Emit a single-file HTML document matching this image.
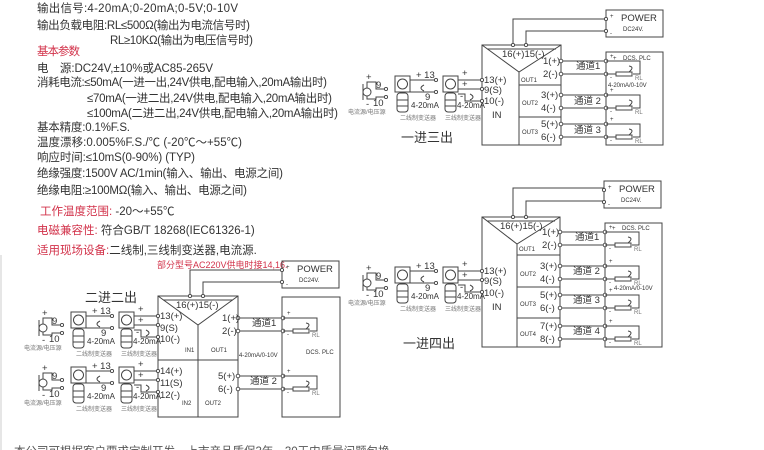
<!DOCTYPE html>
<html><head><meta charset="utf-8"><style>
html,body{margin:0;padding:0;background:#fff;width:764px;height:450px;overflow:hidden}
svg{display:block}
text{font-family:"Liberation Sans","Noto Sans CJK SC",sans-serif;fill:#333}
.t{font-size:11.5px}
.r{fill:#d2324a}
.s{font-size:9.5px}
.xs{font-size:6px;fill:#777}
.l{stroke:#444;stroke-width:1;fill:none}
.c{stroke:#444;stroke-width:0.9;fill:#fff}
</style></head><body>
<svg width="764" height="450" viewBox="0 0 764 450">
<defs>
<g id="inp">
 <circle class="l" cx="367" cy="92" r="4"/>
 <line class="l" x1="363" y1="84" x2="363" y2="100"/>
 <path class="l" d="M367 88 V82 H376 V89 H385 M367 96 V99 H376 V97 H385"/>
 <text class="s" x="366" y="80">+</text><text class="s" x="366" y="107">-</text>
 <text class="s" x="376" y="88">9</text><text class="s" x="373" y="106">10</text>
 <circle class="c" cx="386" cy="89" r="1.6"/><circle class="c" cx="386" cy="97" r="1.6"/>
 <text class="xs" x="348" y="114">电流源/电压源</text>
 <rect class="l" x="395" y="76" width="15" height="16"/><circle class="l" cx="402.5" cy="84" r="5"/>
 <rect class="l" x="397" y="93" width="11" height="19" rx="3"/>
 <line class="l" x1="397" y1="100" x2="408" y2="100"/><line class="l" x1="397" y1="106" x2="408" y2="106"/>
 <path class="l" d="M410 80 H435 M410 92 H435"/>
 <circle class="c" cx="436" cy="80" r="1.6"/><circle class="c" cx="436" cy="92" r="1.6"/>
 <text class="s" x="416" y="78">+ 13</text><text class="s" x="425" y="100">9</text>
 <path class="l" d="M424 85 q-6 3 0 6"/>
 <text class="s" x="411" y="108" style="font-size:8px">4-20mA</text>
 <text class="xs" x="400" y="120">二线制变送器</text>
 <rect class="l" x="443" y="76" width="15" height="16"/><circle class="l" cx="450.5" cy="84" r="5"/>
 <rect class="l" x="445" y="93" width="11" height="19" rx="3"/>
 <line class="l" x1="445" y1="100" x2="456" y2="100"/><line class="l" x1="445" y1="106" x2="456" y2="106"/>
 <path class="l" d="M458 80 H482 M458 89 H482 M458 94 H465 V101 H482"/>
 <text class="s" x="462" y="76">+</text><text class="s" x="462" y="87">+</text><text class="s" x="460" y="99">-</text>
 <path class="l" d="M470 94 q6 3 0 6"/>
 <text class="s" x="457" y="108" style="font-size:8px">4-20mA</text>
 <text class="xs" x="445" y="120">三线制变送器</text>
 <circle class="c" cx="482" cy="80" r="1.6"/><circle class="c" cx="482" cy="89" r="1.6"/><circle class="c" cx="482" cy="101" r="1.6"/>
</g>
<g id="row">
 <path class="l" d="M0 0 H45 M0 13 H45"/>
 <circle class="c" cx="0" cy="0" r="1.8"/><circle class="c" cx="0" cy="13" r="1.8"/>
 <circle class="c" cx="45" cy="0" r="1.8"/><circle class="c" cx="45" cy="13" r="1.8"/>
 <path class="l" d="M45 0 H79 V13 H72 M45 13 H55"/>
 <rect class="l" x="55" y="11" width="16" height="4"/>
 <path class="l" d="M68 5 q6 1 0 6"/>
 <text class="xs" x="49" y="-3" style="fill:#333">+</text>
 <text class="xs" x="49" y="18" style="fill:#333">-</text>
 <text class="xs" x="74" y="19">RL</text>
</g>
<g id="pwr">
 <rect class="l" x="0" y="0" width="57" height="27"/>
 <circle class="c" cx="0" cy="9" r="1.6"/><circle class="c" cx="0" cy="21" r="1.6"/>
 <text class="s" x="15" y="11">POWER</text><text class="xs" x="17" y="21" style="fill:#333">DC24V.</text>
 <text class="xs" x="4" y="8" style="fill:#333">+</text><text class="xs" x="4" y="25" style="fill:#333">-</text>
</g>
</defs>

<text class="t" x="37" y="12" textLength="201">输出信号:4-20mA;0-20mA;0-5V;0-10V</text>
<text class="t" x="37" y="29" textLength="213">输出负载电阻:RL≤500Ω(输出为电流信号时)</text>
<text class="t" x="110" y="44" textLength="143">RL≥10KΩ(输出为电压信号时)</text>
<text class="t r" x="37" y="55" textLength="43">基本参数</text>
<text class="t" x="37" y="72" textLength="176">电　源:DC24V,±10%或AC85-265V</text>
<text class="t" x="37" y="86" textLength="290">消耗电流:≤50mA(一进一出,24V供电,配电输入,20mA输出时)</text>
<text class="t" x="87" y="102" textLength="245">≤70mA(一进二出,24V供电,配电输入,20mA输出时)</text>
<text class="t" x="87" y="117" textLength="251">≤100mA(二进二出,24V供电,配电输入,20mA输出时)</text>
<text class="t" x="37" y="131" textLength="93">基本精度:0.1%F.S.</text>
<text class="t" x="37" y="146" textLength="205">温度漂移:0.005%F.S./℃ (-20℃～+55℃)</text>
<text class="t" x="37" y="161" textLength="158">响应时间:≤10mS(0-90%) (TYP)</text>
<text class="t" x="37" y="177" textLength="246">绝缘强度:1500V AC/1min(输入、输出、电源之间)</text>
<text class="t" x="37" y="194" textLength="210">绝缘电阻:≥100MΩ(输入、输出、电源之间)</text>
<text class="t" x="40" y="215"><tspan class="r">工作温度范围:</tspan> -20～+55℃</text>
<text class="t" x="37" y="234"><tspan class="r">电磁兼容性:</tspan> 符合GB/T 18268(IEC61326-1)</text>
<text class="t" x="37" y="254"><tspan class="r">适用现场设备:</tspan>二线制,三线制变送器,电流源.</text>
<text class="t" x="14" y="455" style="fill:#555">本公司可根据客户要求定制开发，上市产品质保3年，30天内质量问题包换</text>
<line x1="1" y1="255" x2="1" y2="450" stroke="#ccc"/>

<rect class="l" x="482" y="45" width="79" height="100"/>
<path class="l" d="M482 45 L519 72 L561 45 M487 49 H556 M519 72 V145 M519 85 H561 M519 117 H561"/>
<path class="l" d="M513 45 V19 H606 M526 45 V31 H606"/>
<circle class="c" cx="513" cy="45" r="1.6"/><circle class="c" cx="526" cy="45" r="1.6"/>
<text class="s" x="502" y="57">16(+)15(-)</text>
<use href="#pwr" x="606" y="10"/>
<rect class="l" x="606" y="52" width="57" height="93"/>
<text class="xs" x="613" y="60" style="fill:#333">+</text><text class="xs" x="623" y="60" style="fill:#333">DCS. PLC</text>
<text class="xs" x="608" y="87" style="fill:#333">4-20mA/0-10V</text>
<use href="#row" x="561" y="61"/><use href="#row" x="561" y="95"/><use href="#row" x="561" y="124"/>
<text class="s" x="576" y="69">通道1</text><text class="s" x="574" y="104">通道 2</text><text class="s" x="574" y="133">通道 3</text>
<text class="s" x="543" y="64">1(+)</text><text class="s" x="543" y="77">2(-)</text>
<text class="s" x="541" y="98">3(+)</text><text class="s" x="541" y="111">4(-)</text>
<text class="s" x="541" y="127">5(+)</text><text class="s" x="541" y="140">6(-)</text>
<text class="xs" x="521" y="82" style="fill:#333">OUT1</text><text class="xs" x="522" y="105" style="fill:#333">OUT2</text><text class="xs" x="522" y="134" style="fill:#333">OUT3</text>
<text class="s" x="484" y="83">13(+)</text><text class="s" x="484" y="93">9(S)</text><text class="s" x="484" y="104">10(-)</text><text class="s" x="492" y="118">IN</text>
<use href="#inp"/>
<text x="401" y="142" style="font-size:13px">一进三出</text>

<rect class="l" x="482" y="217" width="78" height="130"/>
<path class="l" d="M482 217 L517 244 L560 217 M487 221 H555 M517 244 V347 M517 255 H560 M517 287 H560 M517 318 H560"/>
<path class="l" d="M513 217 V188 H604 M526 217 V201 H604"/>
<circle class="c" cx="513" cy="217" r="1.6"/><circle class="c" cx="526" cy="217" r="1.6"/>
<text class="s" x="500" y="229">16(+)15(-)</text>
<use href="#pwr" x="604" y="181"/>
<rect class="l" x="605" y="223" width="57" height="124"/>
<text class="xs" x="612" y="230" style="fill:#333">+</text><text class="xs" x="622" y="230" style="fill:#333">DCS. PLC</text>
<text class="xs" x="614" y="290" style="fill:#333">4-20mA/0-10V</text>
<use href="#row" x="560" y="232"/><use href="#row" x="560" y="266"/><use href="#row" x="560" y="295"/><use href="#row" x="560" y="326"/>
<text class="s" x="575" y="240">通道1</text><text class="s" x="573" y="274">通道 2</text><text class="s" x="573" y="303">通道 3</text><text class="s" x="573" y="334">通道 4</text>
<text class="s" x="542" y="235">1(+)</text><text class="s" x="542" y="248">2(-)</text>
<text class="s" x="540" y="269">3(+)</text><text class="s" x="540" y="282">4(-)</text>
<text class="s" x="540" y="298">5(+)</text><text class="s" x="540" y="311">6(-)</text>
<text class="s" x="540" y="329">7(+)</text><text class="s" x="540" y="342">8(-)</text>
<text class="xs" x="519" y="251" style="fill:#333">OUT1</text><text class="xs" x="520" y="276" style="fill:#333">OUT2</text><text class="xs" x="520" y="306" style="fill:#333">OUT3</text><text class="xs" x="520" y="336" style="fill:#333">OUT4</text>
<text class="s" x="484" y="274">13(+)</text><text class="s" x="484" y="284">9(S)</text><text class="s" x="484" y="296">10(-)</text><text class="s" x="492" y="310">IN</text>
<use href="#inp" y="191"/>
<text x="403" y="348" style="font-size:13px">一进四出</text>

<text x="157" y="268" class="r" style="font-size:9px">部分型号AC220V供电时接14,16.</text>
<rect class="l" x="158" y="296" width="80" height="121"/>
<path class="l" d="M158 296 L198 325 L238 296 M163 300 H233 M198 325 V417 M158 360 H238"/>
<path class="l" d="M190 296 V270 H282 M203 296 V282 H282"/>
<circle class="c" cx="190" cy="296" r="1.6"/><circle class="c" cx="203" cy="296" r="1.6"/>
<text class="s" x="176" y="308">16(+)15(-)</text>
<use href="#pwr" x="282" y="261"/>
<rect class="l" x="282" y="297" width="58" height="120"/>
<text class="xs" x="306" y="354" style="fill:#333">DCS. PLC</text>
<text class="xs" x="239" y="357" style="fill:#333">4-20mA/0-10V</text>
<use href="#row" x="238" y="318"/><use href="#row" x="238" y="376"/>
<text class="s" x="252" y="326">通道1</text><text class="s" x="250" y="384">通道 2</text>
<text class="s" x="222" y="321">1(+)</text><text class="s" x="222" y="334">2(-)</text>
<text class="s" x="218" y="379">5(+)</text><text class="s" x="218" y="392">6(-)</text>
<text class="xs" x="185" y="352" style="fill:#333">IN1</text><text class="xs" x="211" y="352" style="fill:#333">OUT1</text>
<text class="xs" x="182" y="405" style="fill:#333">IN2</text><text class="xs" x="205" y="405" style="fill:#333">OUT2</text>
<text class="s" x="160" y="319">13(+)</text><text class="s" x="160" y="331">9(S)</text><text class="s" x="160" y="342">10(-)</text>
<text class="s" x="160" y="374">14(+)</text><text class="s" x="160" y="386">11(S)</text><text class="s" x="160" y="398">12(-)</text>
<use href="#inp" x="-324" y="236"/>
<use href="#inp" x="-324" y="291"/>
<text x="85" y="302" style="font-size:13px">二进二出</text>
</svg>
</body></html>
